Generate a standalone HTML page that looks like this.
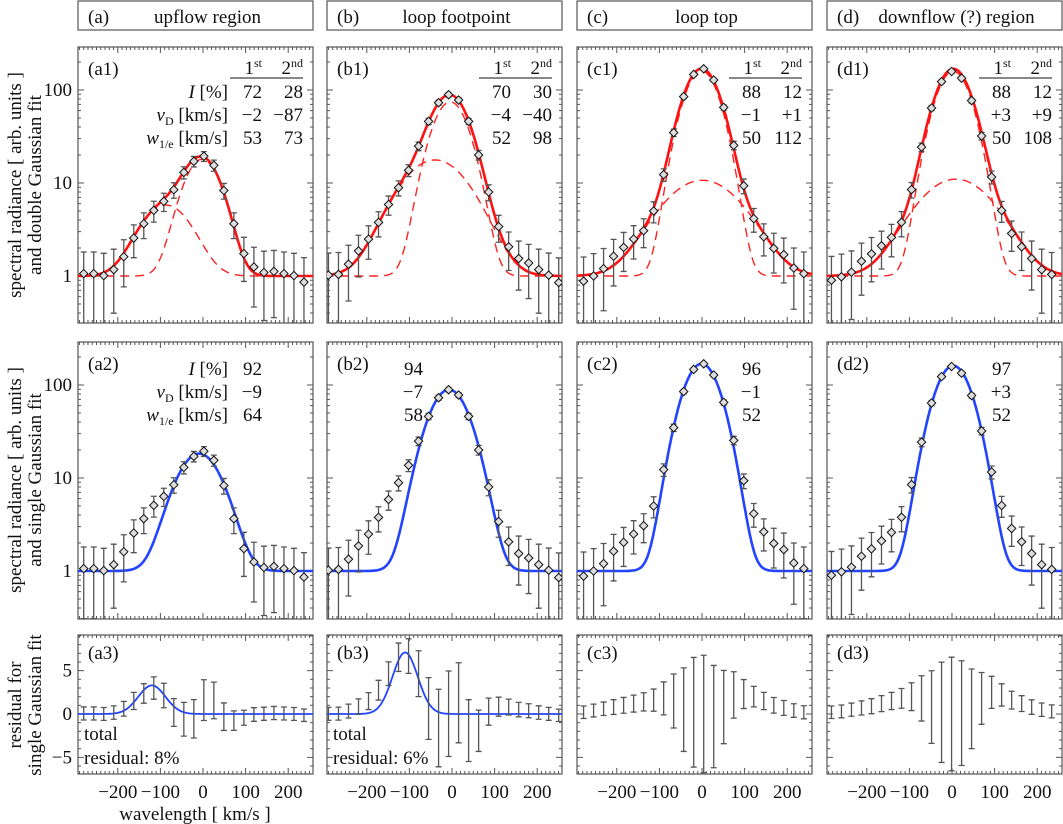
<!DOCTYPE html>
<html><head><meta charset="utf-8">
<style>
html,body{margin:0;padding:0;background:#fff;}
svg{display:block;font-family:"Liberation Serif",serif;}
</style></head>
<body>
<svg id="chart" width="1063" height="824" viewBox="0 0 1063 824" xmlns="http://www.w3.org/2000/svg"></svg>
<script>
// ---- data ----
const panelLetters = ['a','b','c','d'];
const panelTitles = ['upflow region','loop footpoint','loop top','downflow (?) region'];
const gridStart = [-280,-290,-278,-283];
const gridStep = 23.5;
const dataA = [1.06,1.06,1.01,1.17,1.61,2.56,3.65,5.08,6.35,8.46,13.0,17.1,19.4,15.5,8.3,3.65,1.74,1.25,1.09,1.12,1.06,1.01,0.86];
const dataB = [1.02,1.04,1.34,1.86,2.49,3.77,5.87,8.9,13.7,24.9,46,73,89,78,46,20,8.0,3.4,2.06,1.54,1.38,1.17,1.02,0.85];
const dataC = [0.88,1.0,1.2,1.63,2.03,2.5,3.07,5.0,12.3,34.8,85,147,169,128,65,25.4,9.35,4.14,2.64,1.98,1.7,1.22,1.06];
const dataD = [0.9,0.98,1.1,1.44,1.73,2.11,2.6,3.78,8.5,24.3,64,123,158,134,77,32,11.6,5.06,2.87,2.06,1.54,1.17,1.04];
const residC = [0.2,0.4,0.6,0.8,1.0,1.2,1.4,1.6,1.8,1.5,0.5,0.2,0,-0.3,0.8,2.2,2.3,2.0,1.5,1.0,0.7,0.4,0.2];
const residD = [0.2,0.3,0.5,0.7,0.9,1.2,1.5,1.8,2.0,1.8,0.8,0.2,0,0.1,0.6,1.8,2.5,2.2,1.6,1.2,0.8,0.5,0.3];
const dblAmp1 = [17,73.4,159,158];
const dblVel1 = [-2,-4,-1,3];
const dblWid1 = [53,52,50,50];
const dblAmp2 = [4.8,16.7,9.7,10];
const dblVel2 = [-87,-40,1,9];
const dblWid2 = [73,98,112,108];
const sngAmp = [17.3,88,168,160];
const sngVel = [-9,-7,-1,3];
const sngWid = [64,58,52,52];
const residAmp = [3.3,7.1,0,0];
const residVel = [-120,-110,0,0];
const residWid = [45,42,1,1];
const tblI1 = ['72','70','88','88'];
const tblI2 = ['28','30','12','12'];
const tblV1 = ['\u22122','\u22124','\u22121','+3'];
const tblV2 = ['\u221287','\u221240','+1','+9'];
const tblW1 = ['53','52','50','50'];
const tblW2 = ['73','98','112','108'];
const sglI = ['92','94','96','97'];
const sglV = ['\u22129','\u22127','\u22121','+3'];
const sglW = ['64','58','52','52'];
const totalResid = ['8%','6%',null,null];
const xTicks = [-200,-100,0,100,200];
const xTickLabels = ['\u2212200','\u2212100','0','100','200'];
const logTicks = [1,10,100];
const logTickLabels = ['1','10','100'];
const resTicks = [-5,0,5];
const resTickLabels = ['\u22125','0','5'];

const allData = [dataA,dataB,dataC,dataD];
const explicitResid = [null,null,residC,residD];
// ---- geometry ----
const NS='http://www.w3.org/2000/svg';
const svg=document.getElementById('chart');
const colLeft=[78,327,577,827], colW=235;
const rows={top:[47,323],mid:[342,619],bot:[635,774]};
const AX='#555';
const FS=19;
function mk(tag,attrs,parent){const e=document.createElementNS(NS,tag);for(const k in attrs)e.setAttribute(k,attrs[k]);(parent||svg).appendChild(e);return e;}
function xs(c,v){return colLeft[c]+125+v*0.426;}
function yLog(r,v){return rows[r][0]+229-93*Math.log10(v);}
function yRes(v){return rows.bot[0]+79-8.67*v;}
function g1(x,a,m,w){return a*Math.exp(-Math.pow((x-m)/w,2));}
function dbl(c,x){return 1+g1(x,dblAmp1[c],dblVel1[c],dblWid1[c])+g1(x,dblAmp2[c],dblVel2[c],dblWid2[c]);}
function sng(c,x){return 1+g1(x,sngAmp[c],sngVel[c],sngWid[c]);}
function err(v){return Math.sqrt(0.28+0.27*Math.max(v,0));}
function txt(x,y,s,opts,parent){const t=mk('text',Object.assign({x:x,y:y,'font-size':FS,fill:'#111'},opts||{}),parent);t.textContent=s;return t;}

const defs=mk('defs',{});
for(let c=0;c<4;c++){for(const r of ['top','mid','bot']){const cp=mk('clipPath',{id:'clip-'+c+r},defs);mk('rect',{x:colLeft[c],y:rows[r][0],width:colW,height:rows[r][1]-rows[r][0]},cp);}}

function curvePath(c,f,ymap){let d='';for(let x=-300;x<=260;x+=2){d+=(d?'L':'M')+xs(c,x).toFixed(1)+','+ymap(f(x)).toFixed(1);}return d;}

function axes(c,r,g){
  const L=colLeft[c],R=L+colW,T=rows[r][0],B=rows[r][1];
  const fr=mk('rect',{x:L,y:T,width:colW,height:B-T,fill:'none',stroke:AX,'stroke-width':1.2},g);
  
  
  for(let v=-290;v<=250;v+=10){const x=xs(c,v);if(x<L||x>R)continue;const major=(v%100===0);const len=major?6:3;
    mk('line',{x1:x,y1:B,x2:x,y2:B-len,stroke:AX,'stroke-width':1},g);mk('line',{x1:x,y1:T,x2:x,y2:T+len,stroke:AX,'stroke-width':1},g);}
  if(r==='bot'){for(let v=-6;v<=9;v++){const y=yRes(v);if(y<T||y>B)continue;const len=(v%5===0)?6:3;
      mk('line',{x1:L,y1:y,x2:L+len,y2:y,stroke:AX},g);mk('line',{x1:R,y1:y,x2:R-len,y2:y,stroke:AX},g);}}
  else{for(let e=-1;e<=2;e++){for(let m=1;m<10;m++){const v=m*Math.pow(10,e);const y=yLog(r,v);if(y<T||y>B)continue;const len=(m===1)?6:3;
      mk('line',{x1:L,y1:y,x2:L+len,y2:y,stroke:AX},g);mk('line',{x1:R,y1:y,x2:R-len,y2:y,stroke:AX},g);}}}
}

function dataPoints(c,r,g,showDiamonds){
  const d=allData[c];
  for(let i=0;i<d.length;i++){
    const xv=gridStart[c]+i*gridStep;const x=xs(c,xv);const e=err(d[i]);
    let yc,y1,y2;
    if(r==='bot'){const res=explicitResid[c]?explicitResid[c][i]:d[i]-sng(c,xv);yc=yRes(res);y1=yRes(res+e);y2=yRes(res-e);}
    else{yc=yLog(r,d[i]);y1=yLog(r,d[i]+e);y2=yLog(r,Math.max(d[i]-e,0.05));}
    const eb=mk('path',{d:`M${x-3},${y1}H${x+3}M${x},${y1}V${y2}M${x-3},${y2}H${x+3}`,stroke:'#555','stroke-width':1.3,fill:'none'},g);
    
    
    if(showDiamonds){const s=4.2;const dm=mk('path',{d:`M${x},${yc-s}L${x+s},${yc}L${x},${yc+s}L${x-s},${yc}Z`,fill:'#ddd',stroke:'#111','stroke-width':1},g);
      
      }
  }
}

for(let c=0;c<4;c++){
  const L=colLeft[c];
  const hb=mk('rect',{x:L,y:1,width:colW,height:29,fill:'#fff',stroke:AX,'stroke-width':1.2});
  
  
  txt(L+10,23,'('+panelLetters[c]+')');
  txt(L+colW/2+12,23,panelTitles[c],{'text-anchor':'middle'});

  const gt=mk('g',{});
  
  
  axes(c,'top',gt);
  const cg=mk('g',{'clip-path':'url(#clip-'+c+'top)'},gt);
  const yT=v=>yLog('top',v);
  const dash1=mk('path',{d:curvePath(c,x=>1+g1(x,dblAmp1[c],dblVel1[c],dblWid1[c]),yT),fill:'none',stroke:'#f22','stroke-width':1.4,'stroke-dasharray':'9,6'},cg);
  
  
  const dash2=mk('path',{d:curvePath(c,x=>1+g1(x,dblAmp2[c],dblVel2[c],dblWid2[c]),yT),fill:'none',stroke:'#f22','stroke-width':1.4,'stroke-dasharray':'9,6'},cg);
  
  
  const dl=mk('path',{d:curvePath(c,x=>dbl(c,x),yT),fill:'none',stroke:'#f11','stroke-width':2.6},cg);
  
  
  dataPoints(c,'top',cg,true);
  txt(L+10,75,'('+panelLetters[c]+'1)',{},gt);
  const c1=L+184,c2=L+225;
  let t=txt(c1,74,'1',{'text-anchor':'end'},gt);const s1=mk('tspan',{'font-size':12,dy:-7},t);s1.textContent='st';
  t=txt(c2,74,'2',{'text-anchor':'end'},gt);const s2=mk('tspan',{'font-size':12,dy:-7},t);s2.textContent='nd';
  mk('line',{x1:L+152,y1:78,x2:c2,y2:78,stroke:'#111','stroke-width':1},gt);
  txt(c1,98,tblI1[c],{'text-anchor':'end'},gt);txt(c2,98,tblI2[c],{'text-anchor':'end'},gt);
  txt(c1,121,tblV1[c],{'text-anchor':'end'},gt);txt(c2,121,tblV2[c],{'text-anchor':'end'},gt);
  txt(c1,144,tblW1[c],{'text-anchor':'end'},gt);txt(c2,144,tblW2[c],{'text-anchor':'end'},gt);

  const gm=mk('g',{});
  
  
  axes(c,'mid',gm);
  const cm=mk('g',{'clip-path':'url(#clip-'+c+'mid)'},gm);
  const sl=mk('path',{d:curvePath(c,x=>sng(c,x),v=>yLog('mid',v)),fill:'none',stroke:'#2244ff','stroke-width':2.6},cm);
  
  
  dataPoints(c,'mid',cm,true);
  txt(L+10,370,'('+panelLetters[c]+'2)',{},gm);
  const mc=(c===1)?L+96:L+184;
  txt(mc,375,sglI[c],{'text-anchor':'end'},gm);
  txt(mc,398,sglV[c],{'text-anchor':'end'},gm);
  txt(mc,421,sglW[c],{'text-anchor':'end'},gm);

  const gb=mk('g',{});
  
  
  axes(c,'bot',gb);
  const cb=mk('g',{'clip-path':'url(#clip-'+c+'bot)'},gb);
  if(residAmp[c]>0){const rl=mk('path',{d:curvePath(c,x=>g1(x,residAmp[c],residVel[c],residWid[c]),yRes),fill:'none',stroke:'#2244ff','stroke-width':1.8},cb);
    
    }
  dataPoints(c,'bot',cb,false);
  txt(L+10,659,'('+panelLetters[c]+'3)',{},gb);
  if(totalResid[c]){txt(L+6,740,'total',{},gb);txt(L+6,764,'residual:  '+totalResid[c],{},gb);}
  for(let i=0;i<xTicks.length;i++){txt(xs(c,xTicks[i]),798,xTickLabels[i],{'text-anchor':'middle'});}
}
for(const r of ['top','mid']){for(let i=0;i<logTicks.length;i++){txt(72,yLog(r,logTicks[i])+6,logTickLabels[i],{'text-anchor':'end'});}}
for(let i=0;i<resTicks.length;i++){txt(72,yRes(resTicks[i])+6,resTickLabels[i],{'text-anchor':'end'});}
function vtitle(x,y,s,name){const t=txt(x,y,s,{'text-anchor':'middle',transform:`rotate(-90 ${x} ${y})`});}
vtitle(21,185,'spectral radiance  [ arb. units ]','y-axis-title-top-line1');
vtitle(41,185,'and double Gaussian fit','y-axis-title-top-line2');
vtitle(21,480,'spectral radiance  [ arb. units ]','y-axis-title-mid-line1');
vtitle(41,480,'and single Gaussian fit','y-axis-title-mid-line2');
vtitle(21,705,'residual for','y-axis-title-bot-line1');
vtitle(41,705,'single Gaussian fit','y-axis-title-bot-line2');
const xt=txt(195,820,'wavelength  [ km/s ]',{'text-anchor':'middle'});


function rowLabel(y,main,sub,unit){const t=txt(228,y,'',{'text-anchor':'end'});const a=mk('tspan',{'font-style':'italic'},t);a.textContent=main;if(sub){const b=mk('tspan',{'font-size':12,dy:4},t);b.textContent=sub;const c=mk('tspan',{dy:-4},t);c.textContent=unit;}else{const c=mk('tspan',{},t);c.textContent=unit;}return t;}
rowLabel(98,'I','','  [%]');rowLabel(121,'v','D',' [km/s]');rowLabel(144,'w','1/e',' [km/s]');
rowLabel(375,'I','','  [%]');rowLabel(398,'v','D',' [km/s]');rowLabel(421,'w','1/e',' [km/s]');
svg.querySelectorAll('text').forEach(t=>t.setAttribute('xml:space','preserve'));
</script>
</body></html>
